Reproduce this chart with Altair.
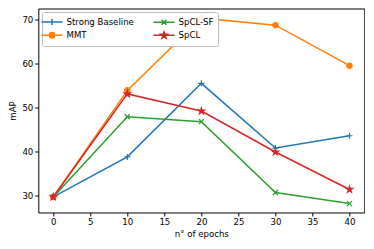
import math
import altair as alt
import pandas as pd

epochs = [0, 10, 20, 30, 40]
series_names = ["Strong Baseline", "MMT", "SpCL-SF", "SpCL"]
strong_baseline = [29.6, 38.7, 55.4, 40.7, 43.5]
mmt = [29.6, 53.8, 70.2, 68.6, 59.4]
spcl_sf = [29.6, 47.8, 46.7, 30.6, 28.1]
spcl = [29.6, 53.0, 49.1, 39.8, 31.3]
x_ticks = [0, 5, 10, 15, 20, 25, 30, 35, 40]
y_ticks = [30, 40, 50, 60, 70]

colors = {"Strong Baseline": "#1f77b4", "MMT": "#ff7f0e",
          "SpCL-SF": "#2ca02c", "SpCL": "#d62728"}
values = {"Strong Baseline": strong_baseline, "MMT": mmt,
          "SpCL-SF": spcl_sf, "SpCL": spcl}
legend_order = series_names

rows = []
for s in series_names:
    for e, v in zip(epochs, values[s]):
        rows.append({"series": s, "epoch": e, "mAP": v})
df = pd.DataFrame(rows)


def star_path(R):
    r = R * 0.382
    pts = []
    for i in range(10):
        ang = -math.pi / 2 + i * math.pi / 5
        rad = R if i % 2 == 0 else r
        pts.append(f"{rad*math.cos(ang):.3f},{rad*math.sin(ang):.3f}")
    return "M" + "L".join(pts) + "Z"


def circle_path(r):
    return f"M{-r},0A{r},{r},0,1,1,{r},0A{r},{r},0,1,1,{-r},0Z"


markers = {
    "Strong Baseline": "M-0.6,0L0.6,0M0,-0.6L0,0.6",
    "MMT": circle_path(0.54),
    "SpCL-SF": "M-0.5,-0.5L0.5,0.5M-0.5,0.5L0.5,-0.5",
    "SpCL": star_path(0.68),
}
legend_shapes = {k: "M-2.1,0L2.1,0" + v for k, v in markers.items()}

FONT = "DejaVu Sans"
FS = 8.6
SZ = 100

x = alt.X("epoch:Q", scale=alt.Scale(domain=[-2.02, 42.0], nice=False, zero=False),
          axis=alt.Axis(values=x_ticks, title="n° of epochs", format="d"))
y = alt.Y("mAP:Q", scale=alt.Scale(domain=[26.07, 72.39], nice=False, zero=False),
          axis=alt.Axis(values=y_ticks, title="mAP", format="d"))

layers = []
for s in series_names:
    sub = alt.Chart(df).transform_filter(alt.datum.series == s)
    layers.append(sub.mark_line(color=colors[s], strokeWidth=1.5).encode(x=x, y=y))
    layers.append(sub.mark_point(shape=markers[s], size=SZ, filled=True,
                                 fill=colors[s], stroke=colors[s], strokeWidth=1.2,
                                 opacity=1).encode(x=x, y=y))

leg = alt.Legend(title=None, orient="none", legendX=3.7, legendY=3.5, columns=2,
                 symbolSize=SZ, symbolStrokeWidth=1.5, symbolOpacity=1,
                 labelFont=FONT, labelFontSize=FS, labelColor="black", labelLimit=300,
                 labelOffset=8.5, columnPadding=16, rowPadding=0.3, padding=4,
                 fillColor="rgba(255,255,255,0.9)", strokeColor="#bbbbbb",
                 cornerRadius=2)
dummy = alt.Chart(df).mark_point(opacity=0, filled=True).encode(
    x=x, y=y,
    shape=alt.Shape("series:N", scale=alt.Scale(domain=legend_order,
                    range=[legend_shapes[k] for k in legend_order]), legend=leg),
    fill=alt.Fill("series:N", scale=alt.Scale(domain=legend_order,
                  range=[colors[k] for k in legend_order]), legend=leg),
    stroke=alt.Stroke("series:N", scale=alt.Scale(domain=legend_order,
                      range=[colors[k] for k in legend_order]), legend=leg),
)
layers.append(dummy)

chart = alt.layer(*layers).properties(
    width=326, height=204,
    autosize=alt.AutoSizeParams(type="none"),
    padding={"left": 30.3, "top": 0.5, "right": 1, "bottom": 30},
).configure_view(stroke="black", strokeWidth=1).configure_axis(
    domain=False, grid=False, ticks=True, tickColor="black", tickSize=3.5,
    tickWidth=1, labelFont=FONT, labelFontSize=FS, labelColor="black",
    labelPadding=2, titleFont=FONT, titleFontSize=FS, titleColor="black",
    titleFontWeight="normal",
).configure_axisX(titlePadding=3).configure_axisY(titlePadding=4)

chart.save("out.html", embed_options={"renderer": "svg", "actions": False})
